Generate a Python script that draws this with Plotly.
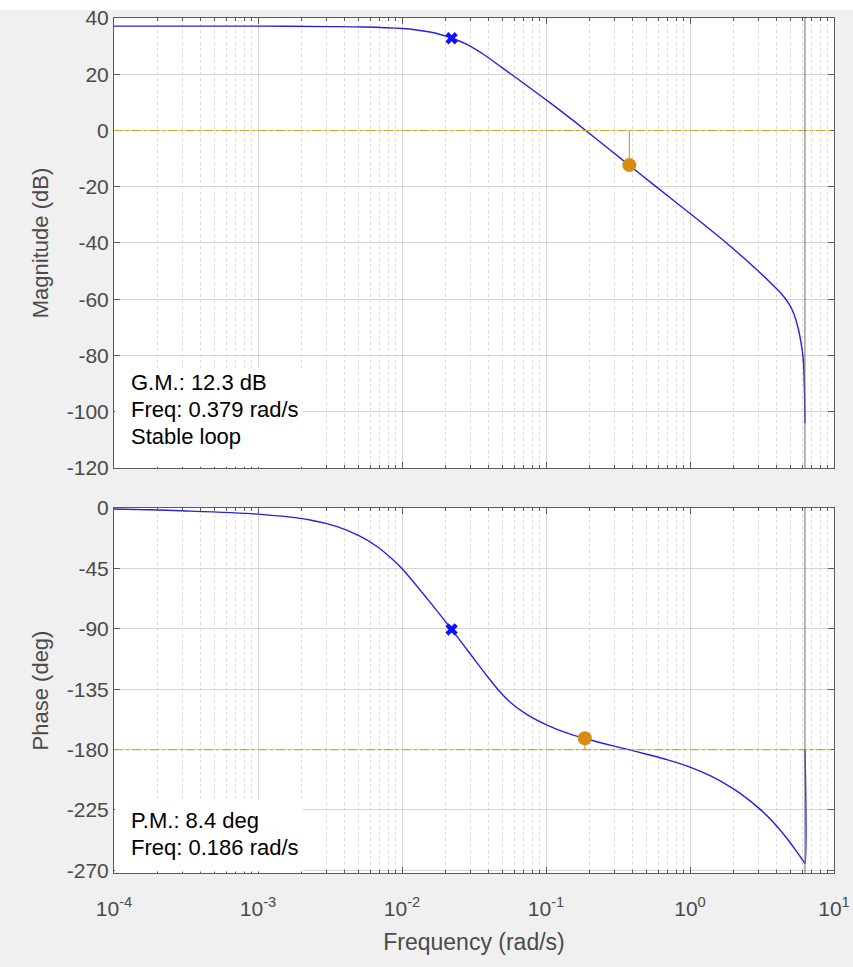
import plotly.graph_objects as go

# ---------------- data ----------------
mag_freq = [1e-4, 1e-3, 0.00316, 0.0054, 0.01, 0.0126, 0.0156, 0.0184, 0.0221, 0.0282,
            0.0367, 0.05, 0.063, 0.107, 0.187, 0.379, 0.572, 1.0, 1.8, 2.9, 3.79, 4.22,
            4.5, 4.82, 5.21, 5.65, 5.96, 6.12, 6.22, 6.25, 6.283]
mag_db = [37.1, 37.1, 36.95, 36.8, 36.25, 35.75, 35.0, 34.15, 32.9, 30.6,
          27.1, 22.2, 18.5, 9.8, 0.2, -12.4, -19.7, -29.5, -40.1, -49.4, -55.1, -57.5,
          -59.2, -61.3, -64.6, -70.5, -76.8, -81.4, -90.0, -96.0, -104.0]

ph_freq = [1e-4, 3.16e-4, 1e-3, 0.0023, 0.00355, 0.0051, 0.00667, 0.00832, 0.0101, 0.0151,
           0.0221, 0.0316, 0.0398, 0.0467, 0.0562, 0.0735, 0.1026, 0.141, 0.186, 0.251,
           0.363, 0.5, 0.7, 1.0, 1.4, 1.7, 2.22, 3.06, 3.79, 4.69, 5.51, 6.12, 6.283, 6.283]
ph_deg = [-0.8, -2.2, -4.6, -8.9, -13.9, -21.0, -28.5, -36.9, -45.6, -68.1,
          -90.5, -112.4, -126.5, -135.6, -144.5, -153.8, -162.0, -167.8, -171.8, -175.5,
          -179.7, -183.5, -187.7, -193.1, -199.8, -204.6, -212.5, -224.4, -234.2, -245.9,
          -256.1, -263.1, -264.9, -180.0]

peak_freq = 0.0221
peak_mag = 32.8
peak_phase = -90.5

gm_freq = 0.379
gm_db = -12.3
pm_freq = 0.186
pm_deg = -171.6
nyquist = 6.283

mag_ticks = [40, 20, 0, -20, -40, -60, -80, -100, -120]
mag_ticktext = ["40", "20", "0", "-20", "-40", "-60", "-80", "-100", "-120"]
ph_ticks = [0, -45, -90, -135, -180, -225, -270]
ph_ticktext = ["0", "-45", "-90", "-135", "-180", "-225", "-270"]
x_ticks = [1e-4, 1e-3, 1e-2, 1e-1, 1e0, 1e1]
x_ticktext = ["10<sup>-4</sup>", "10<sup>-3</sup>", "10<sup>-2</sup>",
              "10<sup>-1</sup>", "10<sup>0</sup>", "10<sup>1</sup>"]
minor_vals = [m * 10 ** e for e in range(-4, 1) for m in range(2, 10)]

gm_lines = ["G.M.: 12.3 dB", "Freq: 0.379 rad/s", "Stable loop"]
pm_lines = ["P.M.: 8.4 deg", "Freq: 0.186 rad/s"]

# ---------------- style ----------------
BLUE = "#2222e0"
ORANGE = "#d98a12"
REFLINE = "#e0a028"
GRID = "#d4d4d4"
MINOR = "#dcdcdc"
AX = "#5a5a5a"
TXT = "#4a4a4a"
FONT = "Liberation Sans, Arial, sans-serif"

fig = go.Figure()

# magnitude
fig.add_trace(go.Scatter(x=mag_freq, y=mag_db, mode="lines",
                         line=dict(color=BLUE, width=1.4, shape="spline", smoothing=0.8),
                         xaxis="x", yaxis="y", showlegend=False))
fig.add_trace(go.Scatter(x=[gm_freq, gm_freq], y=[0, gm_db], mode="lines",
                         line=dict(color=ORANGE, width=1), xaxis="x", yaxis="y", showlegend=False))
fig.add_trace(go.Scatter(x=[peak_freq], y=[peak_mag], mode="markers",
                         marker=dict(symbol="x", size=11, color="#1010ff"),
                         xaxis="x", yaxis="y", showlegend=False))
fig.add_trace(go.Scatter(x=[gm_freq], y=[gm_db], mode="markers",
                         marker=dict(symbol="circle", size=14, color=ORANGE),
                         xaxis="x", yaxis="y", showlegend=False))

# phase
fig.add_trace(go.Scatter(x=ph_freq, y=ph_deg, mode="lines",
                         line=dict(color=BLUE, width=1.4, shape="spline", smoothing=0.8),
                         xaxis="x2", yaxis="y2", showlegend=False))
fig.add_trace(go.Scatter(x=[pm_freq, pm_freq], y=[-180, pm_deg], mode="lines",
                         line=dict(color=ORANGE, width=1), xaxis="x2", yaxis="y2", showlegend=False))
fig.add_trace(go.Scatter(x=[peak_freq], y=[peak_phase], mode="markers",
                         marker=dict(symbol="x", size=11, color="#1010ff"),
                         xaxis="x2", yaxis="y2", showlegend=False))
fig.add_trace(go.Scatter(x=[pm_freq], y=[pm_deg], mode="markers",
                         marker=dict(symbol="circle", size=14, color=ORANGE),
                         xaxis="x2", yaxis="y2", showlegend=False))

xcommon = dict(type="log", range=[-4, 1], showline=True, linecolor=AX, linewidth=1,
               mirror="allticks", ticks="inside", ticklen=6, tickcolor=AX,
               tickmode="array", tickvals=x_ticks, ticktext=x_ticktext, automargin=False,
               showgrid=True, gridcolor=GRID, gridwidth=1, zeroline=False,
               tickfont=dict(family=FONT, size=21, color=TXT),
               minor=dict(tickmode="array", tickvals=minor_vals, ticks="inside", ticklen=3, tickcolor=AX,
                          showgrid=True, gridcolor=MINOR, griddash="dot", gridwidth=1))
ycommon = dict(showline=True, linecolor=AX, linewidth=1, mirror="allticks", automargin=False,
               ticks="inside", ticklen=6, tickcolor=AX, showgrid=True, gridcolor=GRID,
               zeroline=False, tickfont=dict(family=FONT, size=21, color=TXT), tickmode="array")

fig.update_layout(
    width=853, height=967,
    paper_bgcolor="#f0f0f0", plot_bgcolor="white",
    margin=dict(l=114, r=19, t=18, b=94, autoexpand=False),
    xaxis=dict(xcommon, anchor="y", domain=[0, 1], showticklabels=False),
    yaxis=dict(ycommon, domain=[0.4737, 1], range=[-120, 40], tickvals=mag_ticks, ticktext=mag_ticktext,
               title=dict(text="Magnitude (dB)", font=dict(family=FONT, size=22, color=TXT), standoff=12)),
    xaxis2=dict(xcommon, anchor="y2", domain=[0, 1], ticklabelstandoff=17,
                title=dict(text="Frequency (rad/s)", font=dict(family=FONT, size=23, color=TXT), standoff=14)),
    yaxis2=dict(ycommon, domain=[0, 0.4269], range=[-272, 0], tickvals=ph_ticks, ticktext=ph_ticktext,
                title=dict(text="Phase (deg)", font=dict(family=FONT, size=22, color=TXT), standoff=12)),
    font=dict(family=FONT),
)

shapes = []
# reference lines (0 dB, -180 deg)
shapes.append(dict(type="line", xref="x domain", yref="y", x0=0, x1=1, y0=0, y1=0,
                   line=dict(color=REFLINE, width=1.2, dash="dashdot"), layer="above"))
shapes.append(dict(type="line", xref="x2 domain", yref="y2", x0=0, x1=1, y0=-180, y1=-180,
                   line=dict(color=REFLINE, width=1.2, dash="dashdot"), layer="above"))
# Nyquist lines
shapes.append(dict(type="line", xref="x", yref="y domain", x0=nyquist, x1=nyquist, y0=0, y1=1,
                   line=dict(color="#6e6e6e", width=1), layer="above"))
shapes.append(dict(type="line", xref="x2", yref="y2 domain", x0=nyquist, x1=nyquist, y0=0, y1=1,
                   line=dict(color="#6e6e6e", width=1), layer="above"))
# white text boxes
shapes.append(dict(type="rect", xref="x domain", yref="y domain", x0=0.0015, x1=0.2625, y0=0.003, y1=0.222,
                   fillcolor="white", line=dict(width=0), layer="above"))
shapes.append(dict(type="rect", xref="x2 domain", yref="y2 domain", x0=0.0015, x1=0.2625, y0=0.004, y1=0.2,
                   fillcolor="white", line=dict(width=0), layer="above"))
# white strip at very top
shapes.append(dict(type="rect", xref="paper", yref="paper", x0=-0.2, x1=1.1, y0=1.0094, y1=1.03,
                   fillcolor="white", line=dict(width=0), layer="below"))
fig.update_layout(shapes=shapes)

ann = []
for txt, yy in zip(gm_lines, [0.189, 0.129, 0.069]):
    ann.append(dict(text=txt, xref="x domain", yref="y domain", x=0.0208, y=yy,
                    xanchor="left", yanchor="middle", showarrow=False,
                    font=dict(family=FONT, size=22, color="black")))
for txt, yy in zip(pm_lines, [0.145, 0.0685]):
    ann.append(dict(text=txt, xref="x2 domain", yref="y2 domain", x=0.0208, y=yy,
                    xanchor="left", yanchor="middle", showarrow=False,
                    font=dict(family=FONT, size=22, color="black")))
fig.update_layout(annotations=ann)

fig.write_html("out.html")
